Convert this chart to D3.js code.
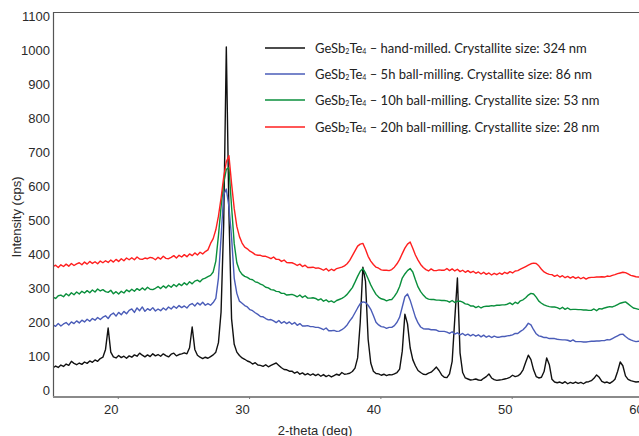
<!DOCTYPE html>
<html>
<head>
<meta charset="utf-8">
<script src="https://cdn.jsdelivr.net/npm/d3@7"></script>
<style>
  html, body { margin: 0; padding: 0; background: #fff; overflow: hidden; }
  svg { display: block; }
</style>
</head>
<body>
<svg id="chart" width="639" height="436"></svg>
<script>
// 2-theta sampling grid (deg)
const twoTheta = [
  15.6,15.8,16.0,16.2,16.4,16.6,16.8,17.0,17.2,17.4,
  17.6,17.8,18.0,18.2,18.4,18.6,18.8,19.0,19.2,19.4,
  19.6,19.8,20.0,20.2,20.4,20.6,20.8,21.0,21.2,21.4,
  21.6,21.8,22.0,22.2,22.4,22.6,22.8,23.0,23.2,23.4,
  23.6,23.8,24.0,24.2,24.4,24.6,24.8,25.0,25.2,25.4,
  25.6,25.8,26.0,26.2,26.4,26.6,26.8,27.0,27.2,27.4,
  27.6,27.8,28.0,28.2,28.4,28.6,28.8,29.0,29.2,29.4,
  29.6,29.8,30.0,30.2,30.4,30.6,30.8,31.0,31.2,31.4,
  31.6,31.8,32.0,32.2,32.4,32.6,32.8,33.0,33.2,33.4,
  33.6,33.8,34.0,34.2,34.4,34.6,34.8,35.0,35.2,35.4,
  35.6,35.8,36.0,36.2,36.4,36.6,36.8,37.0,37.2,37.4,
  37.6,37.8,38.0,38.2,38.4,38.6,38.8,39.0,39.2,39.4,
  39.6,39.8,40.0,40.2,40.4,40.6,40.8,41.0,41.2,41.4,
  41.6,41.8,42.0,42.2,42.4,42.6,42.8,43.0,43.2,43.4,
  43.6,43.8,44.0,44.2,44.4,44.6,44.8,45.0,45.2,45.4,
  45.6,45.8,46.0,46.2,46.4,46.6,46.8,47.0,47.2,47.4,
  47.6,47.8,48.0,48.2,48.4,48.6,48.8,49.0,49.2,49.4,
  49.6,49.8,50.0,50.2,50.4,50.6,50.8,51.0,51.2,51.4,
  51.6,51.8,52.0,52.2,52.4,52.6,52.8,53.0,53.2,53.4,
  53.6,53.8,54.0,54.2,54.4,54.6,54.8,55.0,55.2,55.4,
  55.6,55.8,56.0,56.2,56.4,56.6,56.8,57.0,57.2,57.4,
  57.6,57.8,58.0,58.2,58.4,58.6,58.8,59.0,59.2,59.4,
  59.6,59.8,60.0,60.2,60.4
];

// Intensity (cps), hand-milled sample
const handMilled = [
  66,71,67,74,70,77,73,85,79,75,
  80,76,83,79,86,82,89,85,93,97,
  120,183,112,98,95,102,96,100,94,101,
  97,104,100,109,103,98,104,99,107,101,
  105,100,107,102,98,106,109,101,105,107,
  110,107,125,186,120,103,97,93,97,94,
  99,104,112,140,230,490,1010,520,210,135,
  112,102,95,91,86,83,77,81,74,73,
  70,75,69,73,77,80,73,66,61,60,
  56,56,50,54,47,51,45,49,44,48,
  43,47,41,46,40,44,39,43,47,44,
  52,47,48,50,55,65,95,200,362,320,
  150,80,56,49,48,44,47,43,46,45,
  48,52,62,115,224,195,125,90,72,58,
  52,47,46,50,53,60,68,58,45,38,
  37,48,85,210,330,110,52,36,33,30,
  31,33,30,29,35,40,48,36,31,29,
  30,31,33,35,38,44,40,42,48,60,
  82,103,90,60,40,36,38,55,95,75,
  32,24,22,24,20,25,19,23,20,24,
  20,23,19,24,25,28,35,45,38,26,
  22,24,20,25,32,55,83,72,42,32,
  28,26,24,25,23
];

// Intensity (cps), 5h ball-milling
const ballMilled5h = [
  192,188,196,189,195,199,192,201,196,204,
  198,206,201,209,203,211,206,214,208,215,
  219,211,222,227,218,229,222,232,225,235,
  239,229,242,234,245,232,240,235,243,233,
  239,234,242,236,245,239,247,241,249,243,
  248,242,251,255,248,257,251,259,250,255,
  250,258,270,330,450,575,592,540,450,330,
  285,262,256,249,245,237,234,228,223,217,
  216,211,207,208,204,199,205,197,202,196,
  201,194,199,191,196,189,189,190,187,187,
  185,185,182,178,183,175,175,176,173,174,
  178,184,192,204,214,228,242,255,260,258,
  250,238,220,200,192,187,186,182,185,185,
  190,200,215,245,275,283,265,240,215,198,
  186,181,180,180,178,178,177,173,173,173,
  171,167,172,165,169,163,167,161,165,160,
  164,159,163,157,162,156,160,155,159,156,
  156,158,158,160,161,163,167,167,173,178,
  186,197,192,178,166,160,158,155,155,152,
  152,152,150,149,148,148,147,144,148,143,
  143,143,142,142,143,144,144,145,145,146,
  146,149,148,152,156,160,164,165,158,152,
  148,145,143,144,142
];

// Intensity (cps), 10h ball-milling
const ballMilled10h = [
  274,270,278,280,275,284,278,287,281,289,
  283,291,286,293,287,295,289,298,292,296,
  290,288,294,284,290,283,291,286,295,290,
  297,291,299,294,301,295,303,297,296,300,
  305,299,307,301,309,303,311,305,313,308,
  316,310,319,313,321,324,319,327,330,334,
  338,348,380,455,540,610,650,655,540,432,
  375,352,341,335,332,327,325,319,317,312,
  309,303,301,296,295,291,290,285,285,280,
  281,282,279,275,280,273,278,271,271,272,
  270,265,269,262,266,260,263,258,264,267,
  270,275,282,292,302,318,335,350,358,345,
  328,310,295,282,274,269,267,263,266,267,
  276,288,305,330,342,352,358,348,325,304,
  290,280,272,268,267,267,265,265,264,264,
  263,259,264,258,262,262,259,254,253,248,
  248,243,247,242,246,247,247,249,248,250,
  250,251,251,253,257,252,259,255,263,266,
  272,280,285,283,274,262,256,251,248,246,
  245,245,243,239,244,238,242,237,238,238,
  237,237,236,236,235,235,239,234,240,239,
  242,244,246,245,248,252,256,258,260,254,
  248,242,240,238,237
];

// Intensity (cps), 20h ball-milling
const ballMilled20h = [
  364,368,361,369,364,371,365,373,367,372,
  375,369,377,371,379,373,378,372,380,375,
  381,376,383,377,385,379,387,381,389,384,
  390,384,392,386,385,389,387,391,389,384,
  391,386,394,388,387,391,396,389,397,392,
  399,393,401,396,404,398,406,401,408,413,
  432,446,472,512,565,627,672,690,608,535,
  482,452,433,421,416,409,405,399,397,397,
  394,394,391,387,392,385,385,379,383,376,
  375,375,372,367,371,364,368,361,361,362,
  359,360,357,353,358,351,356,352,358,360,
  362,366,372,382,396,410,424,430,432,415,
  394,380,370,362,359,354,353,353,352,355,
  362,372,385,402,418,430,436,418,398,383,
  370,361,355,351,357,352,352,354,353,353,
  358,352,357,351,356,349,353,347,352,346,
  350,344,348,342,347,341,345,339,344,340,
  345,341,347,343,349,345,351,352,356,360,
  364,368,372,374,373,366,356,348,344,341,
  340,335,339,333,337,331,335,330,334,329,
  333,328,332,327,331,332,332,333,333,334,
  333,336,335,338,340,343,345,347,346,342,
  338,336,334,333,333
];

const xTickValues = [20, 30, 40, 50, 60];
const yTickValues = [0, 100, 200, 300, 400, 500, 600, 700, 800, 900, 1000, 1100];

const seriesData = [handMilled, ballMilled5h, ballMilled10h, ballMilled20h];
const seriesColors = ["#111111", "#4a5cb8", "#0a8f3c", "#ff1f1f"];
const legendSuffixes = [
  "– hand-milled. Crystallite size: 324 nm",
  "– 5h ball-milling. Crystallite size: 86 nm",
  "– 10h ball-milling. Crystallite size: 53 nm",
  "– 20h ball-milling. Crystallite size: 28 nm"
];

const xTitle = "2-theta (deg)";
const yTitle = "Intensity (cps)";

// ---- layout ----
const svg = d3.select("#chart");
const W = 639, H = 436;
const plot = { left: 53, right: 639, top: 12, bottom: 397 };

const x = d3.scaleLinear().domain([15.6, 60.23]).range([plot.left, plot.right]);
const y = d3.scaleLinear().domain([-20, 1113]).range([plot.bottom, plot.top]);

svg.append("defs").append("clipPath").attr("id", "plotClip")
  .append("rect")
  .attr("x", plot.left).attr("y", plot.top)
  .attr("width", plot.right - plot.left).attr("height", plot.bottom - plot.top);

// spectra: black first so the milled curves sit on top
const line = d3.line()
  .x((d, i) => x(twoTheta[i]))
  .y(d => y(d));

const traces = svg.append("g").attr("clip-path", "url(#plotClip)");
[0, 1, 2, 3].forEach(k => {
  traces.append("path")
    .datum(seriesData[k])
    .attr("d", line)
    .attr("fill", "none")
    .attr("stroke", seriesColors[k])
    .attr("stroke-width", 1.4)
    .attr("stroke-linejoin", "round");
});

// frame: top border
svg.append("line")
  .attr("x1", plot.left).attr("x2", W)
  .attr("y1", plot.top + 0.5).attr("y2", plot.top + 0.5)
  .attr("stroke", "#555").attr("stroke-width", 1);

// y axis
const yAxis = d3.axisLeft(y).tickValues(yTickValues).tickFormat(d3.format("d"))
  .tickSize(0).tickPadding(3);
const gy = svg.append("g").attr("transform", `translate(${plot.left},0)`).call(yAxis);
gy.select(".domain").attr("stroke", "#555").attr("stroke-width", 1.2)
  .attr("d", `M0.5,${plot.top}V${plot.bottom}`);
gy.selectAll("text")
  .attr("font-family", "Liberation Sans, Arial, sans-serif")
  .attr("font-size", 13).attr("fill", "#2a2a2a");

// x axis
const xAxis = d3.axisBottom(x).tickValues(xTickValues).tickFormat(d3.format("d"))
  .tickSize(2).tickPadding(6);
const gx = svg.append("g").attr("transform", `translate(0,${plot.bottom})`).call(xAxis);
gx.select(".domain").attr("stroke", "#8a8a8a").attr("stroke-width", 2.2)
  .attr("d", `M${plot.left},0H${W}`);
gx.selectAll(".tick line").attr("stroke", "#777").attr("transform", "translate(7,0)");
gx.selectAll("text")
  .attr("font-family", "Liberation Sans, Arial, sans-serif")
  .attr("font-size", 13).attr("fill", "#2a2a2a");

// axis titles
svg.append("text")
  .attr("x", 315).attr("y", 435)
  .attr("text-anchor", "middle")
  .attr("font-family", "Liberation Sans, Arial, sans-serif")
  .attr("font-size", 13).attr("fill", "#2a2a2a")
  .text(xTitle);

svg.append("text")
  .attr("transform", "translate(21,217) rotate(-90)")
  .attr("text-anchor", "middle")
  .attr("font-family", "Liberation Sans, Arial, sans-serif")
  .attr("font-size", 13).attr("fill", "#2a2a2a")
  .text(yTitle);

// legend
const legend = svg.append("g").attr("font-family", "Lato, 'Open Sans', sans-serif")
  .attr("font-size", 13).attr("fill", "#222");
const legendY = [48, 74, 100, 127];
seriesColors.forEach((c, i) => {
  legend.append("line")
    .attr("x1", 265).attr("x2", 305)
    .attr("y1", legendY[i]).attr("y2", legendY[i])
    .attr("stroke", c).attr("stroke-width", 1.6);
  const t = legend.append("text").attr("x", 315).attr("y", legendY[i] + 4.5);
  t.append("tspan").text("GeSb");
  t.append("tspan").attr("font-size", 7).attr("dy", 1).text("2");
  t.append("tspan").attr("dy", -1).text("Te");
  t.append("tspan").attr("font-size", 7).attr("dy", 1).text("4");
  t.append("tspan").attr("dy", -1).text(" " + legendSuffixes[i]);
});
</script>
</body>
</html>
